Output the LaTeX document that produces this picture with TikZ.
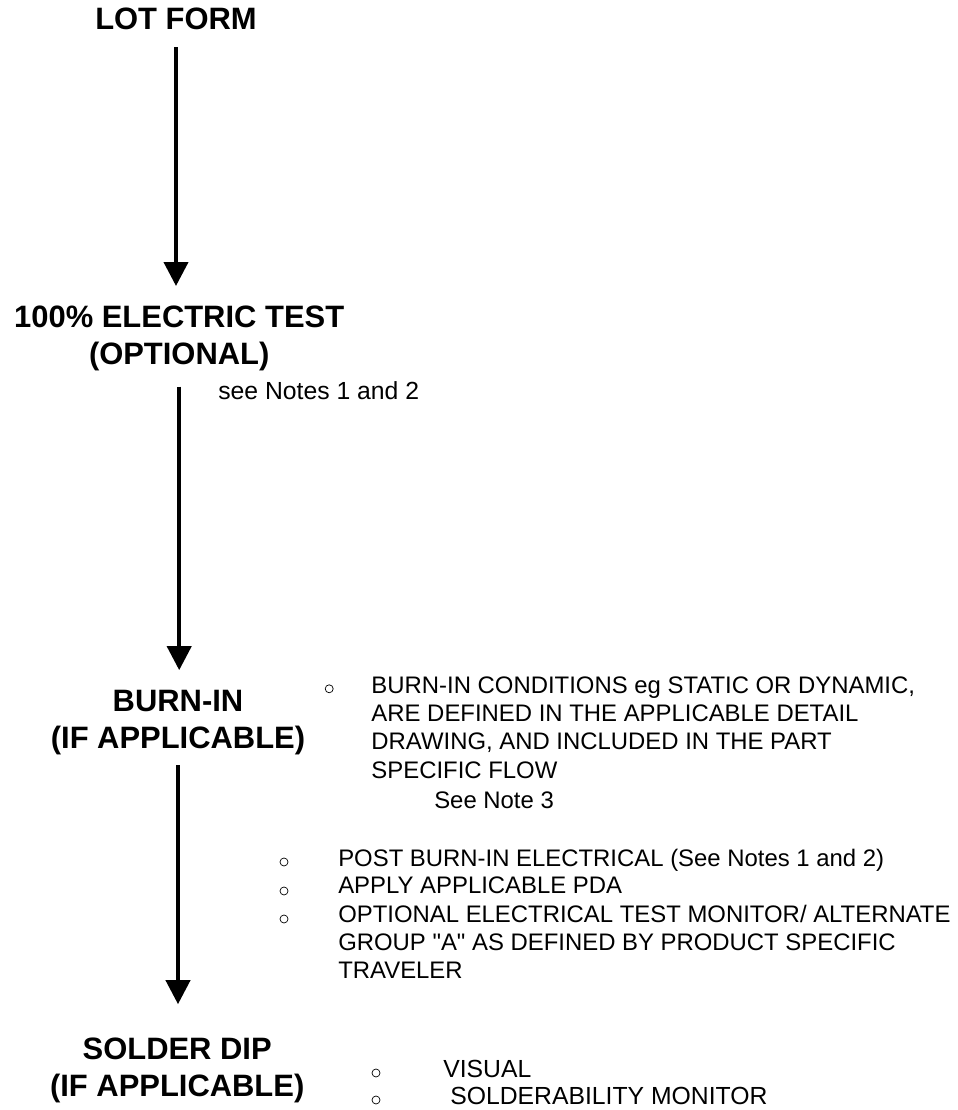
\documentclass[tikz,border=0pt]{standalone}
\usepackage{fontspec}
\setmainfont{Liberation Sans}
\usetikzlibrary{arrows.meta}
\definecolor{inkstroke}{HTML}{000000}
\tikzset{
  stage/.style={
    align=center,
    inner sep=0pt,
    text=inkstroke,
    font=\bfseries\fontsize{22}{26.3}\selectfont
  },
  note/.style={
    align=left,
    inner sep=0pt,
    text=inkstroke,
    font=\fontsize{17}{20}\selectfont
  },
  bignote/.style={
    note,
    font=\fontsize{17.6}{20}\selectfont
  },
  bullet/.style={
    circle,
    draw=inkstroke,
    line width=0.5pt,
    minimum size=0.2cm,
    inner sep=0pt
  },
  flow/.style={
    -{Triangle[length=0.6cm,width=0.6cm]},
    draw=inkstroke,
    line width=0.1cm
  }
}
\begin{document}
\begin{tikzpicture}[x=1cm,y=1cm]
  \path[use as bounding box,fill=white] (0,0) rectangle (23.925,27.75);

  \node[stage] (lot) at (4.40,27.28) {LOT FORM};
  \node[stage] (etest) at (4.48,19.28) {100\% ELECTRIC TEST\\(OPTIONAL)};
  \node[stage] (burnin) at (4.45,9.68) {BURN-IN\\(IF APPLICABLE)};
  \node[stage] (solder) at (4.43,1.00) {SOLDER DIP\\(IF APPLICABLE)};

  % Main flow.
  \draw[flow,shorten <=0.425cm,shorten >=0.5cm]
    (lot.south) -- (lot.south |- etest.north);
  \draw[flow,shorten <=0.375cm,shorten >=0.5cm]
    (etest.south) -- (etest.south |- burnin.north);
  \draw[flow,shorten <=0.25cm,shorten >=0.825cm]
    (burnin.south) -- (burnin.south |- solder.north);

  \node[bignote,anchor=base west] (notes12) at (5.45,17.75) {see Notes 1 and 2};

  % Burn-in conditions.
  \node[bullet] (ba1) at (8.23,10.53) {};
  \node[note,anchor=north west] (conds) at (9.28,10.83)
    {BURN-IN CONDITIONS eg STATIC OR DYNAMIC,\\ARE DEFINED IN THE APPLICABLE DETAIL\\DRAWING, AND INCLUDED IN THE PART\\SPECIFIC FLOW};
  \node[note,anchor=base west] (note3) at (10.85,7.53) {See Note 3};

  % Post burn-in steps.
  \node[bullet] (bb1) at (7.10,6.20) {};
  \node[bullet] (bb2) at (7.10,5.475) {};
  \node[bullet] (bb3) at (7.10,4.775) {};
  \node[note,anchor=north west] (post) at (8.45,6.525)
    {POST BURN-IN ELECTRICAL (See Notes 1 and 2)};
  \node[note,anchor=north west] (pda) at (8.45,5.825) {APPLY APPLICABLE PDA};
  \node[note,anchor=north west] (monitor) at (8.45,5.125)
    {OPTIONAL ELECTRICAL TEST MONITOR/ ALTERNATE\\GROUP \textquotedbl A\textquotedbl{} AS DEFINED BY PRODUCT SPECIFIC\\TRAVELER};

  % Solder dip checks.
  \node[bullet] (bc1) at (9.40,0.925) {};
  \node[bullet] (bc2) at (9.40,0.25) {};
  \node[bignote,anchor=north west] (visual) at (11.075,1.26) {VISUAL};
  \node[bignote,anchor=north west] (solderab) at (11.25,0.585) {SOLDERABILITY MONITOR};
\end{tikzpicture}
\end{document}
